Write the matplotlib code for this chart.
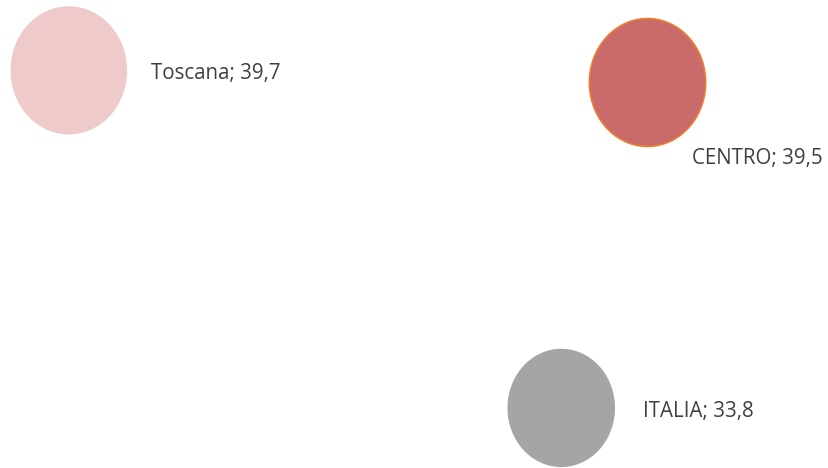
import numpy as np
import matplotlib.pyplot as plt
from matplotlib.path import Path

plt.rcParams['font.family'] = ['Open Sans', 'DejaVu Sans']

# dati
labels = ['Toscana', 'CENTRO', 'ITALIA']
x_vals = [8.3, 78.0, 67.7]
y_vals = [39.7, 39.5, 33.8]
bubble_vals = [39.7, 39.5, 33.8]

colors = ['#EFCACA', '#C96B6A', '#A5A5A5']
edges = ['none', '#ED7D31', 'none']

# marker ellittico (leggermente più alto che largo)
t = np.linspace(0, 2 * np.pi, 100)
ell = Path(np.column_stack([np.cos(t), 1.1 * np.sin(t)]), closed=True)

fig = plt.figure(figsize=(8.29, 4.68), dpi=100)
ax = fig.add_axes([0, 0, 1, 1])

scale = 8500 / 39.6
for i in range(len(labels)):
    ax.scatter(x_vals[i], y_vals[i], s=bubble_vals[i] * scale, marker=ell,
               color=colors[i], edgecolors=edges[i], linewidths=1.2, zorder=2)

# etichette
offsets = [(82, -3), (45, -77), (82, -4)]
for i in range(len(labels)):
    txt = f'{labels[i]}; {y_vals[i]:.1f}'.replace('.', ',')
    ax.annotate(txt, (x_vals[i], y_vals[i]), xytext=offsets[i],
                textcoords='offset pixels', ha='left', va='center',
                fontsize=14.8, color='#404040')

ax.set_xlim(0, 100)
ax.set_ylim(32.75, 40.93)
ax.axis('off')

plt.savefig('out.png', dpi=100)
